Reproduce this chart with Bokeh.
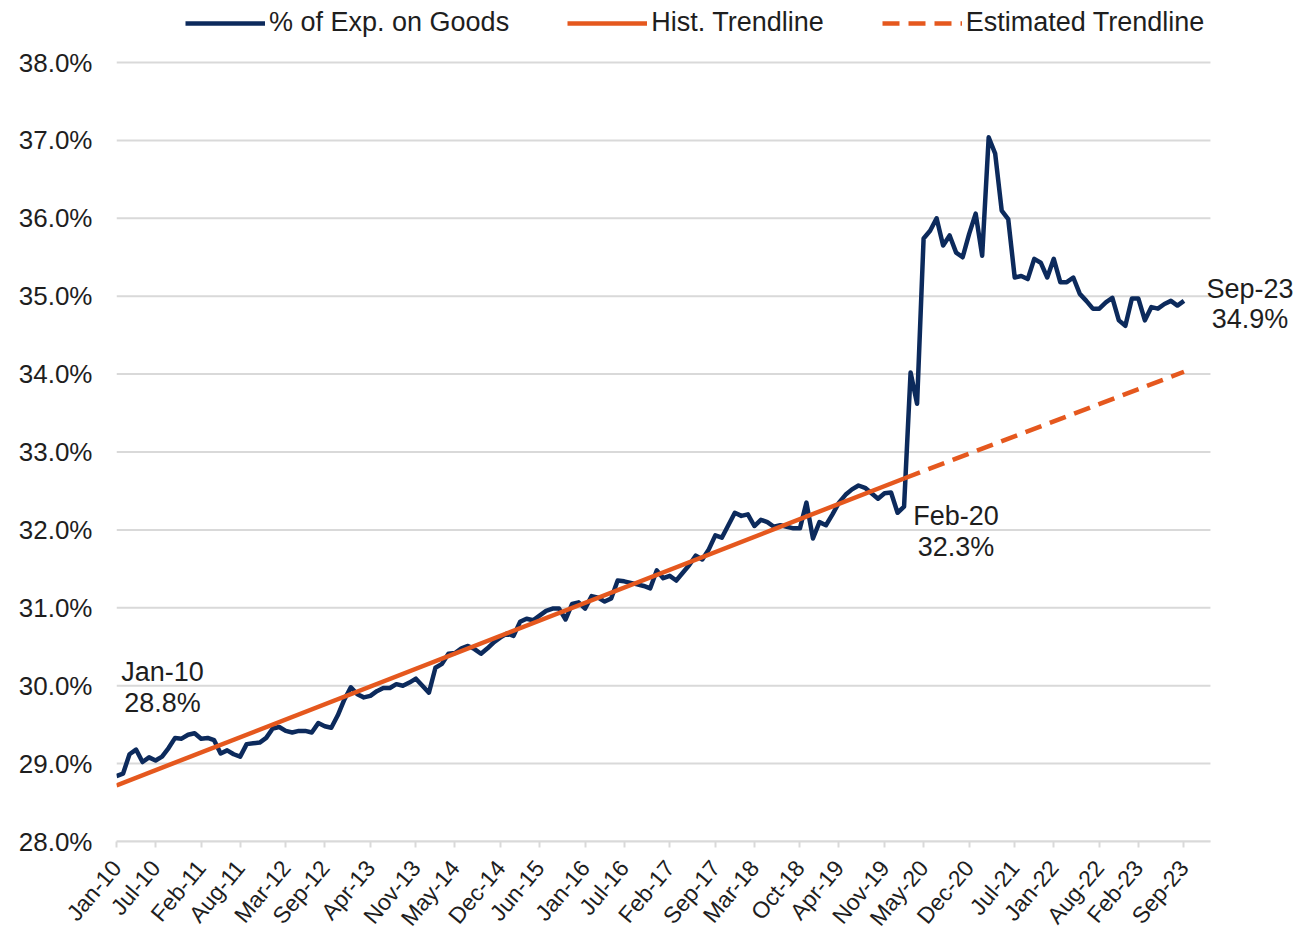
import math
from bokeh.plotting import figure
from bokeh.models import Range1d, FixedTicker, Legend, LegendItem, Label
from bokeh.embed import file_html
from bokeh.resources import INLINE

# ---------------- data ----------------
month_abbr = ["Jan", "Feb", "Mar", "Apr", "May", "Jun",
              "Jul", "Aug", "Sep", "Oct", "Nov", "Dec"]
months = [f"{month_abbr[i % 12]}-{10 + i // 12:02d}" for i in range(165)]  # Jan-10 .. Sep-23

# % of personal consumption expenditure on goods (monthly, Jan-10 .. Sep-23)
goods_share = [
    28.84, 28.87, 29.12, 29.18, 29.02, 29.08, 29.04, 29.09, 29.20, 29.33,   # 2010
    29.32, 29.37,
    29.39, 29.32, 29.33, 29.30, 29.13, 29.17, 29.12, 29.09, 29.25, 29.26,   # 2011
    29.27, 29.33,
    29.45, 29.47, 29.42, 29.40, 29.42, 29.42, 29.40, 29.52, 29.48, 29.46,   # 2012
    29.62, 29.82,
    29.98, 29.89, 29.85, 29.87, 29.93, 29.97, 29.97, 30.02, 30.00, 30.04,   # 2013
    30.09, 30.00,
    29.91, 30.23, 30.28, 30.41, 30.42, 30.48, 30.51, 30.47, 30.41, 30.48,   # 2014
    30.56, 30.62,
    30.67, 30.64, 30.82, 30.86, 30.84, 30.90, 30.96, 30.99, 30.99, 30.85,   # 2015
    31.05, 31.07,
    30.99, 31.15, 31.13, 31.08, 31.12, 31.35, 31.34, 31.32, 31.30, 31.28,   # 2016
    31.25, 31.48,
    31.38, 31.41, 31.35, 31.45, 31.55, 31.67, 31.62, 31.75, 31.93, 31.90,   # 2017
    32.06, 32.22,
    32.18, 32.20, 32.05, 32.13, 32.10, 32.04, 32.06, 32.04, 32.02, 32.02,   # 2018
    32.35, 31.89,
    32.10, 32.06, 32.20, 32.35, 32.45, 32.52, 32.57, 32.54, 32.47, 32.40,   # 2019
    32.47, 32.48,
    32.22, 32.30, 34.02, 33.62, 35.74, 35.84, 36.00, 35.65, 35.78, 35.56,   # 2020
    35.50, 35.80,
    36.06, 35.52, 37.04, 36.83, 36.10, 35.99, 35.24, 35.26, 35.22, 35.48,   # 2021
    35.43, 35.24,
    35.48, 35.18, 35.18, 35.24, 35.03, 34.94, 34.84, 34.84, 34.92, 34.98,   # 2022
    34.69, 34.62,
    34.97, 34.97, 34.69, 34.86, 34.84, 34.90, 34.94, 34.88, 34.94,          # 2023 (Jan-Sep)
]
assert len(goods_share) == len(months)

hist_trend_months = ["Jan-10", "Feb-20"]
hist_trend_values = [28.72, 32.66]
est_trend_months = ["Feb-20", "Sep-23"]
est_trend_values = [32.66, 34.03]

x_tick_labels = ["Jan-10", "Jul-10", "Feb-11", "Aug-11", "Mar-12", "Sep-12", "Apr-13",
                 "Nov-13", "May-14", "Dec-14", "Jun-15", "Jan-16", "Jul-16", "Feb-17",
                 "Sep-17", "Mar-18", "Oct-18", "Apr-19", "Nov-19", "May-20", "Dec-20",
                 "Jul-21", "Jan-22", "Aug-22", "Feb-23", "Sep-23"]
y_ticks = [28, 29, 30, 31, 32, 33, 34, 35, 36, 37, 38]
y_tick_labels = ["28.0%", "29.0%", "30.0%", "31.0%", "32.0%", "33.0%",
                 "34.0%", "35.0%", "36.0%", "37.0%", "38.0%"]

annotated_months = ["Jan-10", "Feb-20", "Sep-23"]

series_names = ["% of Exp. on Goods", "Hist. Trendline", "Estimated Trendline"]

# ---------------- styling / layout ----------------
BLUE = "#0C2A5C"
ORANGE = "#E5581E"
GRID = "#D9D9D9"
TEXT = "#1E1E1E"
FONT = "Liberation Sans"

AXIS_END = 168.07      # where the category axis (and gridlines) stop, in months
VIEW_END = 181.6       # visible x extent (room for the end label)
Y_VIEW = (28, 38.796)

idx = {m: i for i, m in enumerate(months)}
xs = list(range(len(months)))

p = figure(width=1298, height=942, output_backend="svg", toolbar_location=None,
           x_range=Range1d(0, VIEW_END), y_range=Range1d(*Y_VIEW),
           min_border_left=116, min_border_right=0, min_border_top=0,
           min_border_bottom=101)
p.outline_line_color = None
p.background_fill_color = "white"
p.xgrid.grid_line_color = None
p.ygrid.grid_line_color = None

# horizontal gridlines, stopping at the axis end
p.segment(x0=[0] * len(y_ticks), x1=[AXIS_END] * len(y_ticks), y0=y_ticks, y1=y_ticks,
          line_color=GRID, line_width=2, level="underlay")

r_goods = p.line(xs, goods_share, line_color=BLUE, line_width=4.5, line_join="round")
r_hist = p.line([idx[m] for m in hist_trend_months], hist_trend_values,
                line_color=ORANGE, line_width=4.5)
r_est = p.line([idx[m] for m in est_trend_months], est_trend_values,
               line_color=ORANGE, line_width=4.5, line_dash="17 9")

yax = p.yaxis[0]
yax.ticker = FixedTicker(ticks=y_ticks)
yax.major_label_overrides = {t: l for t, l in zip(y_ticks, y_tick_labels)}
yax.axis_line_color = None
yax.major_tick_line_color = None
yax.major_tick_out = 0
yax.major_tick_in = 0
yax.minor_tick_line_color = None
yax.major_label_standoff = 24
yax.major_label_text_font = FONT
yax.major_label_text_font_size = "26px"
yax.major_label_text_color = TEXT

xax = p.xaxis[0]
x_ticks = [idx[m] for m in x_tick_labels]
xax.ticker = FixedTicker(ticks=x_ticks)
xax.bounds = (0, AXIS_END)
xax.major_label_overrides = {t: l for t, l in zip(x_ticks, x_tick_labels)}
xax.major_label_orientation = math.radians(50)
xax.axis_line_color = GRID
xax.axis_line_width = 2
xax.major_tick_line_color = GRID
xax.major_tick_line_width = 2
xax.major_tick_in = 0
xax.major_tick_out = 6
xax.minor_tick_line_color = None
xax.major_label_standoff = 16
xax.major_label_text_font = FONT
xax.major_label_text_font_size = "23px"
xax.major_label_text_color = TEXT

legend = Legend(items=[LegendItem(label=series_names[0], renderers=[r_goods]),
                       LegendItem(label=series_names[1], renderers=[r_hist]),
                       LegendItem(label=series_names[2], renderers=[r_est])],
                orientation="horizontal", location=(69, 803),
                glyph_width=80, glyph_height=20, label_standoff=4, spacing=58,
                padding=0, margin=0, border_line_color=None,
                background_fill_alpha=0,
                label_text_font=FONT, label_text_font_size="27px",
                label_text_color=TEXT)
p.add_layout(legend, "center")

# annotations: month name above value, anchored at the data point
label_offsets = {"Jan-10": (46, 104, 73), "Feb-20": (52, -9, -40), "Sep-23": (66, 12, -18)}
for m in annotated_months:
    i = idx[m]
    v = goods_share[i]
    dx, dy1, dy2 = label_offsets[m]
    for txt, dy in ((m, dy1), (f"{v:.1f}%", dy2)):
        p.add_layout(Label(x=i, y=v, x_offset=dx, y_offset=dy, text=txt,
                           text_align="center", text_baseline="middle",
                           text_font=FONT, text_font_size="27px", text_color=TEXT))

open("out.html", "w").write(file_html(p, INLINE))
